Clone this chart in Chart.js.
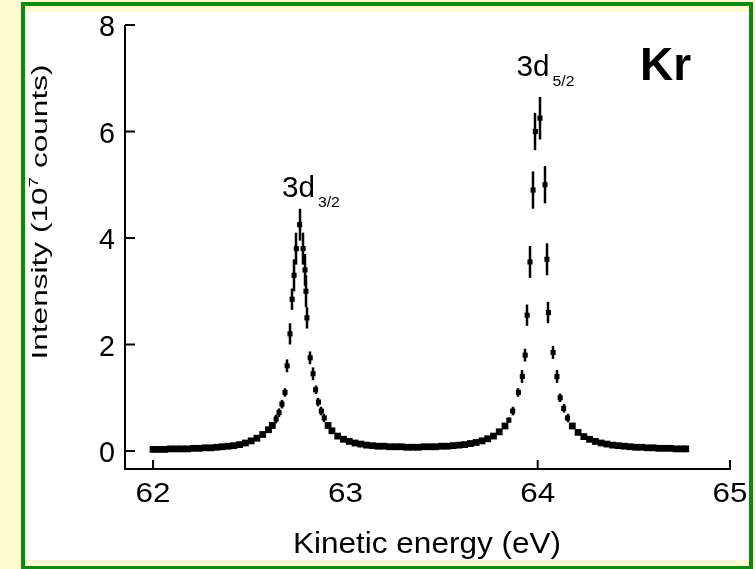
<!DOCTYPE html>
<html>
<head>
<meta charset="utf-8">
<script src="https://cdn.jsdelivr.net/npm/chart.js@4"></script>
<style>
  html, body { margin: 0; padding: 0; background: #fffbd0; }
  #chart { display: block; }
</style>
</head>
<body>
<canvas id="chart" width="755" height="569"></canvas>
<script>
// Kr 3d spectrum - kinetic energy (eV) vs intensity (10^7 counts)
const energy = [
  62.00, 62.03, 62.06, 62.09, 62.12, 62.15, 62.18, 62.21, 62.24, 62.27,
  62.30, 62.33, 62.36, 62.39, 62.42, 62.45, 62.48, 62.51, 62.54, 62.57,
  62.600, 62.620, 62.640, 62.655, 62.670, 62.686, 62.697, 62.712, 62.723, 62.733,
  62.745, 62.762, 62.780, 62.790, 62.795, 62.800, 62.817, 62.832, 62.845, 62.860,
  62.875, 62.890,
  62.91, 62.93, 62.96, 62.99, 63.02, 63.05, 63.08, 63.11, 63.14, 63.17,
  63.20, 63.23, 63.26, 63.29, 63.32, 63.35, 63.38, 63.41, 63.44, 63.47,
  63.50, 63.53, 63.56, 63.59, 63.62, 63.65, 63.68, 63.71, 63.74, 63.77,
  63.80, 63.83,
  63.850, 63.870, 63.900, 63.920, 63.935, 63.945, 63.960, 63.976, 63.988, 64.012,
  64.038, 64.048, 64.056, 64.080, 64.100, 64.117, 64.135, 64.155,
  64.18, 64.21, 64.24, 64.27, 64.30, 64.33, 64.36, 64.39, 64.42, 64.45,
  64.48, 64.51, 64.54, 64.57, 64.60, 64.63, 64.66, 64.69, 64.72, 64.75, 64.77
];
const intensity = [
  0.03, 0.03, 0.03, 0.04, 0.04, 0.04, 0.04, 0.05, 0.05, 0.06,
  0.06, 0.07, 0.08, 0.09, 0.10, 0.12, 0.15, 0.19, 0.24, 0.31,
  0.40, 0.48, 0.60, 0.72, 0.88, 1.10, 1.60, 2.20, 2.85, 3.30,
  3.80, 4.25, 3.80, 3.40, 3.00, 2.50, 1.75, 1.45, 1.15, 0.92,
  0.75, 0.62,
  0.48, 0.38, 0.28, 0.22, 0.18, 0.15, 0.13, 0.11, 0.10, 0.09,
  0.09, 0.08, 0.08, 0.08, 0.07, 0.07, 0.07, 0.08, 0.08, 0.08,
  0.09, 0.09, 0.10, 0.11, 0.12, 0.14, 0.16, 0.19, 0.23, 0.28,
  0.36, 0.47,
  0.58, 0.75, 1.10, 1.40, 1.80, 2.55, 3.55, 4.90, 6.00, 6.25,
  5.00, 3.60, 2.60, 1.85, 1.40, 1.00, 0.80, 0.62,
  0.47, 0.35, 0.27, 0.22, 0.18, 0.15, 0.13, 0.11, 0.10, 0.09,
  0.08, 0.07, 0.07, 0.06, 0.06, 0.05, 0.05, 0.05, 0.04, 0.04, 0.04
];
const errors = [
  0.03, 0.03, 0.03, 0.03, 0.03, 0.03, 0.03, 0.03, 0.03, 0.03,
  0.03, 0.03, 0.03, 0.03, 0.03, 0.03, 0.03, 0.03, 0.05, 0.05,
  0.05, 0.05, 0.08, 0.08, 0.08, 0.08, 0.12, 0.20, 0.20, 0.30,
  0.30, 0.30, 0.30, 0.30, 0.30, 0.20, 0.12, 0.12, 0.08, 0.08,
  0.08, 0.08,
  0.05, 0.05, 0.05, 0.05, 0.03, 0.03, 0.03, 0.03, 0.03, 0.03,
  0.03, 0.03, 0.03, 0.03, 0.03, 0.03, 0.03, 0.03, 0.03, 0.03,
  0.03, 0.03, 0.03, 0.03, 0.03, 0.03, 0.03, 0.03, 0.05, 0.05,
  0.05, 0.05,
  0.05, 0.08, 0.08, 0.12, 0.12, 0.20, 0.30, 0.35, 0.35, 0.40,
  0.35, 0.30, 0.20, 0.12, 0.12, 0.08, 0.08, 0.08,
  0.05, 0.05, 0.05, 0.05, 0.03, 0.03, 0.03, 0.03, 0.03, 0.03,
  0.03, 0.03, 0.03, 0.03, 0.03, 0.03, 0.03, 0.03, 0.03, 0.03, 0.03
];

const xTicks = [62, 63, 64, 65];
const xTickMarks = [62, 64, 65];
const yTicks = [0, 2, 4, 6, 8];
const peakLabels = [
  { main: '3d', sub: '3/2', x: 62.67, y: 4.77 },
  { main: '3d', sub: '5/2', x: 63.89, y: 7.05 }
];

// draw text squeezed/stretched to a given width
function stretchText(ctx, text, x, y, font, width, align) {
  ctx.save();
  ctx.font = font;
  const w = ctx.measureText(text).width;
  const sx = width / w;
  let left = x;
  if (align === 'center') left = x - width / 2;
  if (align === 'right') left = x - width;
  ctx.translate(left, y);
  ctx.scale(sx, 1);
  ctx.textAlign = 'left';
  ctx.textBaseline = 'alphabetic';
  ctx.fillText(text, 0, 0);
  ctx.restore();
}

const framePlugin = {
  id: 'frame',
  beforeDraw(chart) {
    const ctx = chart.ctx;
    ctx.save();
    ctx.fillStyle = '#fffbd0';
    ctx.fillRect(0, 0, 755, 569);
    ctx.fillStyle = '#0e8a10';
    ctx.fillRect(21, 2, 732, 567);
    ctx.fillStyle = '#fffbd0';
    ctx.fillRect(25, 6, 724, 560);
    ctx.fillStyle = '#ffffff';
    ctx.fillRect(25, 12, 724, 548);
    ctx.restore();
  }
};

const errorBars = {
  id: 'errorBars',
  beforeDatasetsDraw(chart) {
    const { ctx, scales: { x, y } } = chart;
    ctx.save();
    ctx.strokeStyle = '#000';
    ctx.lineWidth = 2.5;
    energy.forEach((e, i) => {
      const px = Math.round(x.getPixelForValue(e));
      ctx.beginPath();
      ctx.moveTo(px, y.getPixelForValue(intensity[i] - errors[i]));
      ctx.lineTo(px, y.getPixelForValue(intensity[i] + errors[i]));
      ctx.stroke();
    });
    ctx.restore();
  }
};

const axesPlugin = {
  id: 'axesText',
  afterDraw(chart) {
    const { ctx, chartArea: a, scales: { x, y } } = chart;
    ctx.save();
    ctx.strokeStyle = '#000';
    ctx.fillStyle = '#000';
    ctx.lineWidth = 2;

    // axis lines
    ctx.beginPath();
    ctx.moveTo(a.left, y.getPixelForValue(8));
    ctx.lineTo(a.left, a.bottom + 1);
    ctx.moveTo(a.left - 1, a.bottom);
    ctx.lineTo(a.right + 1, a.bottom);
    ctx.stroke();

    // inward ticks
    ctx.beginPath();
    yTicks.forEach(v => {
      const py = y.getPixelForValue(v);
      ctx.moveTo(a.left, py);
      ctx.lineTo(a.left + 10, py);
    });
    xTickMarks.forEach(v => {
      const px = x.getPixelForValue(v);
      ctx.moveTo(px, a.bottom);
      ctx.lineTo(px, a.bottom - 9);
    });
    ctx.stroke();

    // tick labels
    yTicks.forEach(v => {
      stretchText(ctx, String(v), a.left - 10, y.getPixelForValue(v) + 11,
        '30px "Liberation Sans", Arial, sans-serif', 16, 'right');
    });
    xTicks.forEach(v => {
      stretchText(ctx, String(v), x.getPixelForValue(v), a.bottom + 33,
        '27px "Liberation Sans", Arial, sans-serif', 35, 'center');
    });

    // x title
    stretchText(ctx, 'Kinetic energy (eV)', 427, 553,
      '30px "Liberation Sans", Arial, sans-serif', 268, 'center');

    // y title, rotated, with superscript 7
    ctx.save();
    ctx.translate(47, 212);
    ctx.rotate(-Math.PI / 2);
    const big = '30px "Liberation Sans", Arial, sans-serif';
    const small = '18px "Liberation Sans", Arial, sans-serif';
    const p1 = 'Intensity (10';
    const sup = '7';
    const p2 = ' counts)';
    ctx.font = big;
    const w1 = ctx.measureText(p1).width;
    const w3 = ctx.measureText(p2).width;
    ctx.font = small;
    const w2 = ctx.measureText(sup).width;
    const total = w1 + w2 + w3;
    ctx.scale(295 / total, 0.72);
    ctx.textAlign = 'left';
    ctx.textBaseline = 'alphabetic';
    let cx = -total / 2;
    ctx.font = big;
    ctx.fillText(p1, cx, 0);
    cx += w1;
    ctx.font = small;
    ctx.fillText(sup, cx, -12);
    cx += w2;
    ctx.font = big;
    ctx.fillText(p2, cx, 0);
    ctx.restore();

    // peak labels
    peakLabels.forEach(p => {
      const px = x.getPixelForValue(p.x);
      const py = y.getPixelForValue(p.y);
      stretchText(ctx, p.main, px, py, '30px "Liberation Sans", Arial, sans-serif', 33, 'left');
      stretchText(ctx, p.sub, px + 36, py + 10, '14px "Liberation Sans", Arial, sans-serif', 22, 'left');
    });

    // element label
    ctx.font = 'bold 46px "Liberation Sans", Arial, sans-serif';
    ctx.textAlign = 'left';
    ctx.textBaseline = 'alphabetic';
    ctx.fillText('Kr', 640, 80);

    ctx.restore();
  }
};

const ctx = document.getElementById('chart').getContext('2d');
new Chart(ctx, {
  type: 'scatter',
  data: {
    datasets: [{
      label: 'Kr 3d',
      data: energy.map((e, i) => ({ x: e, y: intensity[i] })),
      showLine: false,
      pointStyle: 'rect',
      pointRadius: c => (intensity[c.dataIndex] < 0.5 ? 4.8 : 3.6),
      pointBorderWidth: 0,
      pointBackgroundColor: '#000',
      pointBorderColor: '#000'
    }]
  },
  options: {
    responsive: false,
    animation: false,
    devicePixelRatio: 1,
    layout: { padding: { left: 125, right: 25, top: 25, bottom: 100 } },
    plugins: {
      legend: { display: false },
      tooltip: { enabled: false }
    },
    scales: {
      x: { type: 'linear', min: 61.854, max: 65, display: false },
      y: { type: 'linear', min: -0.338, max: 8, display: false }
    }
  },
  plugins: [framePlugin, errorBars, axesPlugin]
});
</script>
</body>
</html>
